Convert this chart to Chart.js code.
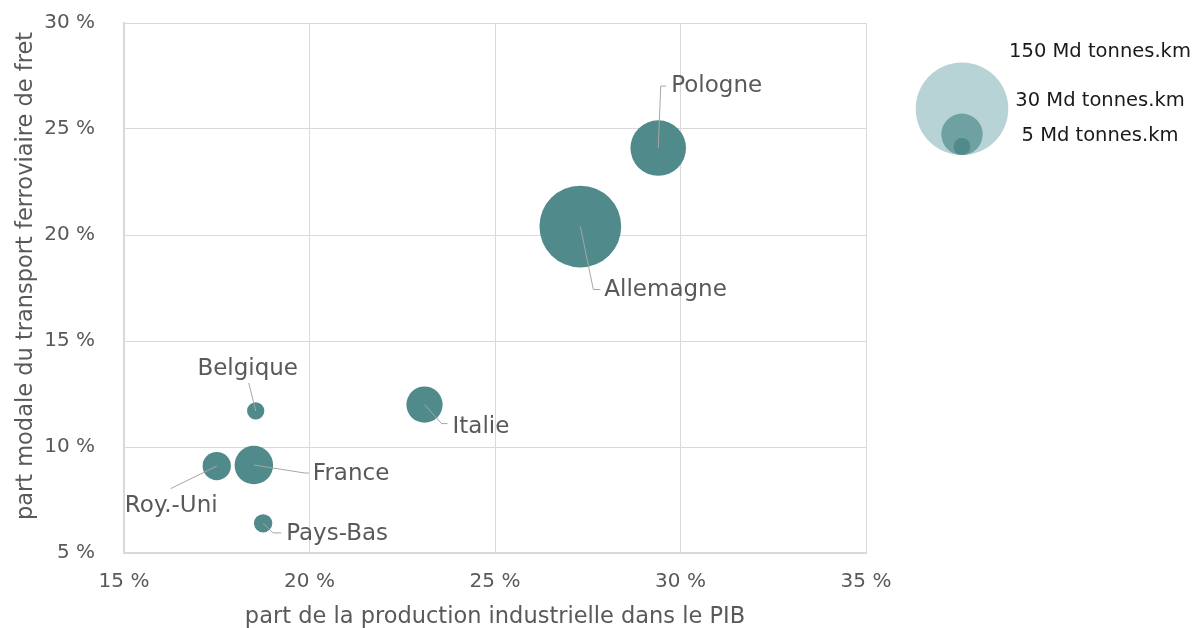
<!DOCTYPE html>
<html lang="fr">
<head>
<meta charset="utf-8">
<title>Fret ferroviaire et industrie</title>
<script src="https://cdn.jsdelivr.net/npm/chart.js@4.4.1/dist/chart.umd.min.js"></script>
<style>
  html, body { margin: 0; padding: 0; background: #ffffff; }
  #zone { width: 1192px; height: 628px; }
</style>
</head>
<body>
<div id="zone"><canvas id="graphFret" width="1192" height="628"></canvas></div>
<script>
// Données : pays, part de l'industrie dans le PIB (%), part modale du fret ferroviaire (%), volume (Md tonnes.km)
const pays = ['Allemagne', 'Pologne', 'Italie', 'France', 'Roy.-Uni', 'Belgique', 'Pays-Bas'];
const partIndustrie = [27.3, 29.4, 23.1, 18.5, 17.5, 18.55, 18.75];
const partFret = [20.4, 24.1, 12.0, 9.15, 9.1, 11.7, 6.4];
const volumeFret = [117, 54, 23, 26, 14, 5.2, 5.9];

// Bulles de référence de la légende
const volumesLegende = [150, 30, 5];
const ticksX = [15, 20, 25, 30, 35];
const ticksY = [5, 10, 15, 20, 25, 30];

const titreX = 'part de la production industrielle dans le PIB';
const titreY = 'part modale du transport ferroviaire de fret';

const POLICE = "'DejaVu Sans', sans-serif";
const GRIS_TEXTE = '#595959';
const COULEUR_BULLE = '#508a8b';
const COULEURS_LEGENDE = ['#b8d3d5', '#6fa1a2', '#508a8b'];

// rayon en pixels : surface proportionnelle au volume (150 Md -> 46 px)
const rayon = v => 46.3 * Math.sqrt(v / 150);

// placement des étiquettes autour des bulles (décalages en pixels depuis le centre)
// coude = point de la ligne de rappel, fin = bout horizontal, txt = position du texte
const etiquettes = {
  'Allemagne': { coude: [13, 63], fin: [20, 63], txt: [24, 64], align: 'left' },
  'Pologne':   { coude: [2.5, -62], fin: [8, -62], txt: [13, -62], align: 'left' },
  'Italie':    { coude: [17, 19], fin: [23, 19], txt: [28, 22], align: 'left' },
  'France':    { coude: [51, 8], fin: [55, 8], txt: [59, 9.5], align: 'left' },
  'Roy.-Uni':  { coude: [-46, 22.5], fin: [-46, 22.5], txt: [-45.5, 40], align: 'center' },
  'Belgique':  { coude: [-7, -28], fin: [-7, -28], txt: [-8, -42], align: 'center' },
  'Pays-Bas':  { coude: [10, 9.6], fin: [18, 9.6], txt: [23, 10.6], align: 'left' }
};

const pointsBulles = pays.map((p, i) => ({
  x: partIndustrie[i],
  y: partFret[i],
  r: rayon(volumeFret[i])
}));

// lignes de rappel + noms des pays
const pluginEtiquettes = {
  id: 'etiquettes',
  afterDatasetsDraw(chart) {
    const ctx = chart.ctx;
    const meta = chart.getDatasetMeta(0);
    ctx.save();
    meta.data.forEach((el, i) => {
      const e = etiquettes[pays[i]];
      const cx = el.x, cy = el.y;
      ctx.strokeStyle = '#a6a6a6';
      ctx.lineWidth = 1;
      ctx.beginPath();
      ctx.moveTo(cx, cy);
      ctx.lineTo(cx + e.coude[0], cy + e.coude[1]);
      ctx.lineTo(cx + e.fin[0], cy + e.fin[1]);
      ctx.stroke();
      ctx.fillStyle = GRIS_TEXTE;
      ctx.font = '23px ' + POLICE;
      ctx.textAlign = e.align;
      ctx.textBaseline = 'middle';
      ctx.fillText(pays[i], cx + e.txt[0], cy + e.txt[1]);
    });
    ctx.restore();
  }
};

// titre vertical, un peu remonté par rapport au centre de la zone de tracé
const pluginTitreY = {
  id: 'titreY',
  afterDraw(chart) {
    const ctx = chart.ctx;
    const a = chart.chartArea;
    ctx.save();
    ctx.translate(26, (a.top + a.bottom) / 2 - 12);
    ctx.rotate(-Math.PI / 2);
    ctx.fillStyle = GRIS_TEXTE;
    ctx.font = '22.5px ' + POLICE;
    ctx.textAlign = 'center';
    ctx.textBaseline = 'middle';
    ctx.fillText(titreY, 0, 0);
    ctx.restore();
  }
};

// légende des tailles de bulles, à droite du graphique
const pluginLegendeTailles = {
  id: 'legendeTailles',
  afterDraw(chart) {
    const ctx = chart.ctx;
    const cx = 962, bas = 155;
    const posTextes = [52, 101, 136];
    ctx.save();
    volumesLegende.forEach((v, i) => {
      const r = rayon(v);
      ctx.fillStyle = COULEURS_LEGENDE[i];
      ctx.beginPath();
      ctx.arc(cx, bas - r, r, 0, Math.PI * 2);
      ctx.fill();
    });
    ctx.fillStyle = '#1a1a1a';
    ctx.font = '19.5px ' + POLICE;
    ctx.textAlign = 'center';
    ctx.textBaseline = 'middle';
    volumesLegende.forEach((v, i) => {
      ctx.fillText(v + ' Md tonnes.km', 1100, posTextes[i]);
    });
    ctx.restore();
  }
};

const ctx = document.getElementById('graphFret').getContext('2d');
const graphFret = new Chart(ctx, {
  type: 'bubble',
  data: {
    datasets: [{
      label: 'fret ferroviaire',
      data: pointsBulles,
      backgroundColor: COULEUR_BULLE,
      borderWidth: 0,
      hoverBorderWidth: 0
    }]
  },
  options: {
    responsive: false,
    animation: false,
    devicePixelRatio: 1,
    layout: { autoPadding: false, padding: { top: 23, right: 326, left: 0, bottom: 0 } },
    plugins: {
      legend: { display: false },
      tooltip: { enabled: false }
    },
    scales: {
      x: {
        type: 'linear',
        min: 15, max: 35,
        afterBuildTicks: s => { s.ticks = ticksX.map(v => ({ value: v })); },
        afterFit: s => { s.height = 75; },
        grid: { color: '#d9d9d9', lineWidth: 1, drawTicks: false },
        border: { color: '#d9d9d9', width: 2 },
        ticks: {
          padding: 17,
          color: GRIS_TEXTE,
          font: { family: POLICE, size: 20 },
          callback: v => v + ' %'
        },
        title: {
          display: true,
          text: titreX,
          color: GRIS_TEXTE,
          font: { family: POLICE, size: 22.5, lineHeight: 1.0 },
          padding: { top: 0, bottom: 0 }
        }
      },
      y: {
        type: 'linear',
        min: 5, max: 30,
        afterBuildTicks: s => { s.ticks = ticksY.map(v => ({ value: v })); },
        afterFit: s => { s.width = 124; },
        // graduations invisibles : elles servent seulement à écarter les libellés de l'axe
        grid: { color: '#d9d9d9', lineWidth: 1, drawTicks: true, tickLength: 29, tickColor: 'rgba(0,0,0,0)' },
        border: { color: '#d9d9d9', width: 2 },
        ticks: {
          padding: 0,
          color: GRIS_TEXTE,
          font: { family: POLICE, size: 20 },
          callback: v => v + ' %'
        }
      }
    }
  },
  plugins: [pluginEtiquettes, pluginTitreY, pluginLegendeTailles]
});
</script>
</body>
</html>
